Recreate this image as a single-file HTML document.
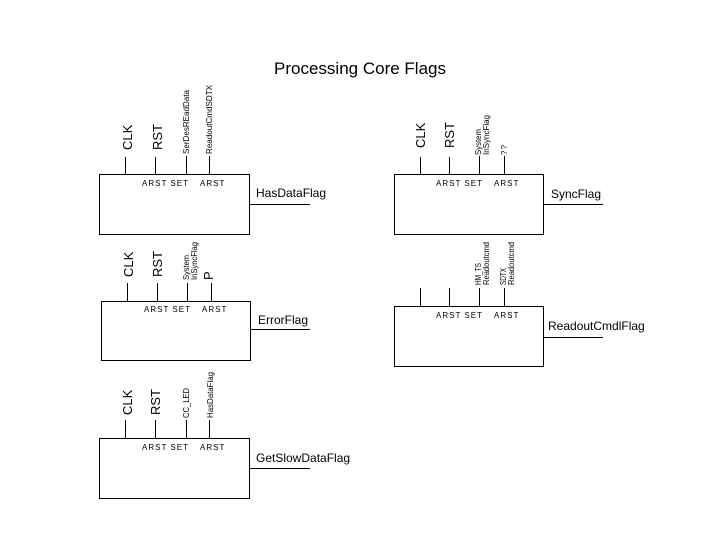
<!DOCTYPE html>
<html><head><meta charset="utf-8"><style>
html,body{margin:0;padding:0;background:#fff;}
svg{display:block;font-family:"Liberation Sans",Arial,sans-serif;}
.s{font-size:8px;letter-spacing:1px;}
.m{font-size:13px;}
.o{font-size:12px;}
.t{font-size:8px;}
</style></head><body>
<svg width="720" height="540" viewBox="0 0 720 540" xmlns="http://www.w3.org/2000/svg">
<text x="360" y="74" text-anchor="middle" font-size="17">Processing Core Flags</text>
<g fill="none" stroke="#000" stroke-width="1">
<rect x="99.5" y="174.5" width="150" height="60"/>
<rect x="394.5" y="174.5" width="149" height="60"/>
<rect x="101.5" y="301.5" width="149" height="59"/>
<rect x="394.5" y="306.5" width="149" height="60"/>
<rect x="99.5" y="438.5" width="150" height="60"/>
<path d="M249 204.5H310M543 204.5H603M250 329.5H310M543 337.5H603M249 468.5H310"/>
<path d="M125.5 157V174M155.5 157V174M186.5 156V174M209.5 156V174"/>
<path d="M420.5 157V174M449.5 157V174M479.5 156V174M504.5 156V174"/>
<path d="M420.5 288V306M449.5 288V306M479.5 288V306M504.5 288V306"/>
<path d="M127.5 283V301M157.5 283V301M187.5 283V301M211.5 283V301"/>
<path d="M125.5 420V438M155.5 420V438M186.5 420V438M209.5 420V438"/>
</g>
<g fill="#000">
<text class="s" x="142" y="186">ARST SET</text><text class="s" x="200" y="186">ARST</text>
<text class="s" x="436" y="186">ARST SET</text><text class="s" x="494" y="186">ARST</text>
<text class="s" x="436" y="318">ARST SET</text><text class="s" x="494" y="318">ARST</text>
<text class="s" x="144" y="312">ARST SET</text><text class="s" x="202" y="312">ARST</text>
<text class="s" x="142" y="450">ARST SET</text><text class="s" x="200" y="450">ARST</text>
<text class="o" x="256" y="197">HasDataFlag</text>
<text class="o" x="551" y="198">SyncFlag</text>
<text class="o" x="258" y="324">ErrorFlag</text>
<text class="o" x="548" y="330">ReadoutCmdlFlag</text>
<text class="o" x="256" y="462">GetSlowDataFlag</text>

<text class="m" transform="translate(132,150) rotate(-90)">CLK</text>
<text class="m" transform="translate(162,150) rotate(-90)">RST</text>
<text class="t" transform="translate(189,154) rotate(-90)" textLength="64" lengthAdjust="spacingAndGlyphs">SerDesREadData</text>
<text class="t" transform="translate(212,154) rotate(-90)" textLength="69" lengthAdjust="spacingAndGlyphs">ReadoutCmdSDTX</text>

<text class="m" transform="translate(425,148) rotate(-90)">CLK</text>
<text class="m" transform="translate(454,148) rotate(-90)">RST</text>
<text class="t" transform="translate(481,155) rotate(-90)" textLength="26" lengthAdjust="spacingAndGlyphs">System</text>
<text class="t" transform="translate(489,155) rotate(-90)" textLength="40" lengthAdjust="spacingAndGlyphs">InSyncFlag</text>
<text class="s" transform="translate(507,155) rotate(-90)">??</text>

<text class="t" transform="translate(481,285) rotate(-90)" textLength="22" lengthAdjust="spacingAndGlyphs">HM_TS</text>
<text class="t" transform="translate(489,285) rotate(-90)" textLength="43" lengthAdjust="spacingAndGlyphs">Readoutcmd</text>
<text class="t" transform="translate(506,285) rotate(-90)" textLength="17" lengthAdjust="spacingAndGlyphs">SDTX</text>
<text class="t" transform="translate(514,285) rotate(-90)" textLength="43" lengthAdjust="spacingAndGlyphs">Readoutcmd</text>

<text class="m" transform="translate(133,277) rotate(-90)">CLK</text>
<text class="m" transform="translate(162,277) rotate(-90)">RST</text>
<text class="t" transform="translate(189,280) rotate(-90)" textLength="25" lengthAdjust="spacingAndGlyphs">System</text>
<text class="t" transform="translate(197,280) rotate(-90)" textLength="38" lengthAdjust="spacingAndGlyphs">InSyncFlag</text>
<text class="m" transform="translate(213,280) rotate(-90)">P</text>

<text class="m" transform="translate(132,415) rotate(-90)">CLK</text>
<text class="m" transform="translate(160,415) rotate(-90)">RST</text>
<text class="t" transform="translate(189,418) rotate(-90)" textLength="30" lengthAdjust="spacingAndGlyphs">CC_LED</text>
<text class="t" transform="translate(213,418) rotate(-90)" textLength="46" lengthAdjust="spacingAndGlyphs">HasDataFlag</text>
</g>
</svg>
</body></html>
